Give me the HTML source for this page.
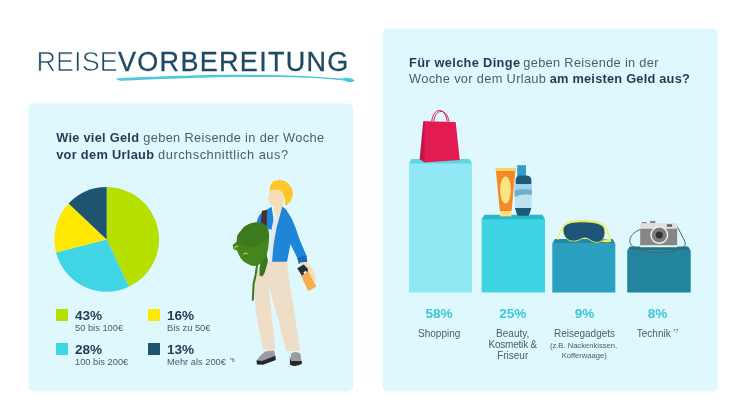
<!DOCTYPE html>
<html lang="de">
<head>
<meta charset="utf-8">
<title>Reisevorbereitung</title>
<style>
html,body{margin:0;padding:0;background:#fff;}
body{width:746px;height:420px;overflow:hidden;position:relative;}
svg{position:absolute;left:0;top:0;display:block;}
text{font-family:"Liberation Sans",sans-serif;}
.b{font-weight:700;fill:#1e3d54;}
.l{fill:#4b5d6b;}
.h{font-size:12.8px;}
.pc{font-weight:700;font-size:13.6px;}
.lg{font-size:9.3px;fill:#4b5d6b;}
.lb{font-size:10px;fill:#4b5d6b;text-anchor:middle;}
.sm{font-size:7.6px;fill:#4b5d6b;text-anchor:middle;}
</style>
</head>
<body>
<svg width="746" height="420" viewBox="0 0 746 420">
<!-- panels -->
<rect x="28.5" y="103.5" width="324.5" height="288" rx="5" fill="#dff8fd"/>
<rect x="382.5" y="28.5" width="335" height="363" rx="5" fill="#dff8fd"/>

<!-- title -->
<g id="title">
<path d="M116 78.4 C130 77.4 160 76.2 200 75.2 C225 74.7 255 74.8 280 75.2 C300 75.6 325 77 340 78.5 C343 78.4 345 77.4 347.5 77.7 C350.5 78 353.5 79 354.7 80.2 C354 81.6 351 82.3 349 82 C346.5 81.6 345 80.8 343 80.5 C335 79.6 320 78.3 310 77.8 C295 77.2 270 76.8 240 76.9 C215 77.1 180 78.2 160 79.1 C145 79.8 130 80.6 124 80.7 C120 80.8 116.6 80.2 116 78.4 Z" fill="#4cc9dc"/>
<text id="t1" x="36.4" y="71" font-size="27" fill="#1f4a63" letter-spacing="0.1" stroke="#fff" stroke-width="0.7">REISE</text>
<text id="t2" x="118" y="71" font-size="27" fill="#1f4a63" letter-spacing="1.3" stroke="#1f4a63" stroke-width="0.3">VORBEREITUNG</text>
</g>

<!-- left heading -->
<text class="h b" x="56.2" y="141.9" textLength="82.8">Wie viel Geld</text>
<text class="h l" x="143.3" y="141.9" textLength="180.7">geben Reisende in der Woche</text>
<text class="h b" x="56.2" y="158.6" textLength="97.8">vor dem Urlaub</text>
<text class="h l" x="158.1" y="158.6" textLength="129.9">durchschnittlich aus?</text>

<!-- pie -->
<g id="pie">
<path d="M106.7 239.4L106.70 187.10A52.3 52.3 0 0 1 128.97 286.72Z" fill="#b5e000"/>
<path d="M106.7 239.4L128.97 286.72A52.3 52.3 0 0 1 56.04 252.41Z" fill="#3fd5e5"/>
<path d="M106.7 239.4L56.04 252.41A52.3 52.3 0 0 1 68.57 203.60Z" fill="#ffe800"/>
<path d="M106.7 239.4L68.57 203.60A52.3 52.3 0 0 1 106.70 187.10Z" fill="#1d5470"/>
</g>

<!-- legend -->
<g id="legend">
<rect x="56" y="309" width="12" height="12" fill="#b5e000"/>
<rect x="56" y="343" width="12" height="12" fill="#3fd5e5"/>
<rect x="148" y="309" width="12" height="12" fill="#ffe800"/>
<rect x="148" y="343" width="12" height="12" fill="#1d5470"/>
<text class="pc b" x="75" y="319.6">43%</text>
<text class="lg" x="75" y="331.4">50 bis 100€</text>
<text class="pc b" x="75" y="353.6">28%</text>
<text class="lg" x="75" y="365.4">100 bis 200€</text>
<text class="pc b" x="167" y="319.6">16%</text>
<text class="lg" x="167" y="331.4">Bis zu 50€</text>
<text class="pc b" x="167" y="353.6">13%</text>
<text class="lg" x="167" y="365.4">Mehr als 200€ <tspan font-size="5.6" dx="1.2" dy="-3">*6</tspan></text>
</g>

<!-- person -->
<g id="person">
<!-- face + neck -->
<path d="M269.6 190 L269 196 L267.9 200 L269.4 201.4 L269.8 203.6 Q270.6 205.8 273 205.8 L274.6 205.5 L273.8 209 L276.6 220 L282.2 208.5 L282.6 203.6 Q284.8 201.6 284.4 198.6 L282 190 L276 186 Z" fill="#f8dcb6"/>
<!-- hair -->
<path d="M269.8 190.6 C269.6 187 270.4 184.6 272 183.4 C272.4 181.6 274.6 180.4 276.4 181 C277.6 179.6 280.4 179.4 281.8 180.6 C283.6 180 285.8 181 286.6 182.6 C288.6 183 290 184.8 290 186.4 C291.8 187.6 292.8 189.8 292.4 191.6 C293.4 193.6 293 196 292 197.6 C292 199.8 290.8 201.8 289.2 202.6 C288.4 204.4 286.6 205.6 285 205 C285.4 202.6 285.2 199.6 284.4 197 C283.4 193.6 281.6 190.8 279 190 C276 189.2 272.6 189.6 269.8 190.6 Z" fill="#fdc72b"/>
<!-- jacket left (behind) -->
<path d="M271.6 206.8 L268.6 208.6 L262 212.4 Q257.4 216 256.2 224.5 L262 227 L272 230 L274 222 Z" fill="#1e86d8"/>
<!-- shirt -->
<path d="M273.8 218 L276.6 220 L280.6 215 L280 232 L279.4 245 L278.5 263 L269.8 263 L269.4 245 L271 232 Z" fill="#e6e9eb"/>
<!-- pants -->
<path d="M265 261.5 L287 261.5 L289.8 285 L294.4 312 L300.2 351 L286 351 L277 315 L268.5 285 L271.5 315 L275.5 349.6 L263 349.6 L255.9 312 L253.8 286 L256 272 Z" fill="#eedec8"/>
<!-- ankle -->
<path d="M267.5 349.4 L273 349.4 L273.4 352.4 L268 353.4 Z" fill="#f8dcb6"/>
<!-- jacket right (front) -->
<path d="M282.4 206.4 L286 209.4 L291.4 217.9 L295.7 227.9 L299 238 L306.8 256.5 L298 259.5 L290.5 244 L287 261.8 L272 261.8 L273.5 245 L276.5 228 L280.4 213.5 Z" fill="#1e86d8"/>
<path d="M297.3 258 L306.4 255.6 L307.4 261.6 L298.8 263.9 Z" fill="#1768b6"/>
<!-- backpack strap -->
<path d="M262 210.8 L267.2 210 L266.6 226 L260.4 226 Z" fill="#4b2d2e"/>
<!-- backpack -->
<path d="M266 252 L268 261 L264.6 272.9 L262.3 276.6 L259.5 275.4 L259.6 267 L262 258 Z" fill="#3a761c"/>
<path d="M240.9 231.1 C243 227.6 245.4 225.6 248.4 224.6 C251 223.2 254 222.5 256.9 222.5 C259.4 222.5 261.6 223 263.4 224 C265.4 225 266.8 226.2 267.6 227.9 C268.6 230.4 269.1 233.4 269.1 236.4 C269.2 240 268.8 243.6 268.3 247.1 C268 250 267.4 252.4 266.6 254.6 C265.6 257.6 264.2 260.2 262.3 262.1 C260.6 264 258.4 265.4 255.9 265.8 C253.8 266.2 251.6 265.6 249.4 264.7 C247 263.8 244.8 262.6 243 261.1 C241.2 259.2 239.8 257 238.7 254.6 L237 250.4 L233.4 249.3 L232.7 245 L236.6 241.8 C236.6 239.6 237 237.4 237.6 235.4 C238.4 233.8 239.6 232.4 240.9 231.1 Z" fill="#44851f"/>
<path d="M240.9 231.1 C243 227.6 245.4 225.6 248.4 224.6 C251 223.2 254 222.5 256.9 222.5 C259.4 222.5 261.6 223 263.4 224 C265.4 225 266.8 226.2 267.6 227.9 C268.6 230.4 269.1 233.4 268.9 237.5 C263 243 256 247 249.4 247.1 C245 247 240.6 245.2 237 242.6 C236.8 240 237 237.4 237.6 235.4 C238.4 233.8 239.6 232.4 240.9 231.1 Z" fill="#3c7a1d"/>
<path d="M257 265.6 L255.6 275 L253.6 284 L252.8 299.8" fill="none" stroke="#3a761c" stroke-width="2" stroke-linecap="round"/>
<path d="M234.6 248.6 q0.6 -3 3.6 -2.2" fill="none" stroke="#e7c62f" stroke-width="1.1"/>
<path d="M243.4 254.8 q1.6 -2.8 4.2 -0.8" fill="none" stroke="#e7c62f" stroke-width="1.1"/>
<!-- hand + bottle -->
<path d="M300.7 275 L307.8 269.6 L316.4 286.4 L308.2 291.2 Z" fill="#f5ae4d"/>
<path d="M299.6 262.6 L306.6 262 C310 265 313 268.5 314.4 272 L316.2 280.5 L313.4 281.6 L309.6 272.6 L306 270 L301.4 268 Z" fill="#f8dcb6"/>
<path d="M297.2 268.2 L303.8 264.4 L307.8 268.8 L307.8 271.6 L301.8 275.4 Z" fill="#22303c"/>
<path d="M303.4 272.2 L306 270.8 L306.8 272.6 L304.2 274 Z" fill="#ffffff"/>
<!-- shoes -->
<path d="M265 351.4 L274.2 350.4 L275.4 357 L262.4 361.6 L257.4 362.4 L257.2 359.4 L261 355 Z" fill="#9c9c9e"/>
<path d="M256.4 360.2 L262 361 L275.4 355.8 L275.8 360 L263 364.8 L257 364.4 Z" fill="#26282a"/>
<path d="M291 353.4 Q295.6 350.4 300.4 353.4 L301.6 362.6 L290.6 362.6 Z" fill="#9c9c9e"/>
<path d="M289.8 356 L291 361 L301.6 361 L302.2 363.6 Q296 367.8 290 364.8 Z" fill="#26282a"/>
</g>

<!-- right heading -->
<text class="h b" x="409" y="66.5" textLength="111">Für welche Dinge</text>
<text class="h l" x="523.3" y="66.5" textLength="135.2">geben Reisende in der</text>
<text class="h l" x="409" y="82.5" textLength="136.9">Woche vor dem Urlaub</text>
<text class="h b" x="549.7" y="82.5" textLength="140.1">am meisten Geld aus?</text>

<!-- bars -->
<g id="bars">
<rect x="409" y="163" width="63" height="129.5" fill="#90e8f4"/>
<path d="M409 163.4L411.6 158.9H469.4L472 163.4Z" fill="#5ed4e4"/>
<rect x="481.7" y="219" width="63.3" height="73.5" fill="#3dd4e4"/>
<path d="M481.7 219.2L484.3 214.7H542.4L545 219.2Z" fill="#2bb8cc"/>
<rect x="552.3" y="243.5" width="63" height="49" fill="#2a9fbf"/>
<path d="M552.3 243.7L554.9 239H612.7L615.3 243.7Z" fill="#1f8aa8"/>
<rect x="627.2" y="250.5" width="63.5" height="42" fill="#22849f"/>
<path d="M627.2 250.8L629.8 246.4H688.1L690.7 250.8Z" fill="#1a7590"/>
</g>

<!-- bar icons -->
<g id="bag">
<path d="M431.7 121.6 C432.6 114 436 110.4 439.4 110.4 C443 110.4 446.2 114 447.2 121.6" fill="none" stroke="#d9204f" stroke-width="1"/>
<path d="M433.7 121.6 C434.6 114.6 437.8 111.4 441 111.4 C444.6 111.4 447.8 114.6 449 121.6" fill="none" stroke="#c71848" stroke-width="0.9"/>
<path d="M423.2 121.3 L426 121.3 L425.2 162.6 L419.6 159.2 Z" fill="#c2154a"/>
<path d="M424.6 121.3 L455.7 122 L459.8 160 L424.7 162.6 Z" fill="#e31b53"/>
</g>
<g id="cosmetics">
<path d="M495.7 168.1 H515.6 L511.6 211 H499.8 Z" fill="#f28b27"/>
<path d="M495.7 168.1 H515.6 L515.3 171 H496 Z" fill="#fbd26a"/>
<ellipse cx="505.5" cy="190" rx="5.4" ry="13.6" fill="#fde581"/>
<rect x="500" y="211" width="11.4" height="5.4" fill="#fde27c"/>
<rect x="517.2" y="165.2" width="8.8" height="11" fill="#2fa0c2"/>
<path d="M515.6 184.6 V181 Q515.6 175.6 520.4 175.6 H526.2 Q531.4 175.6 531.4 181 V184.6 Z" fill="#1d5a78"/>
<path d="M514.4 184.4 H532 L531.4 208.2 H515 Z" fill="#bfe3f3"/>
<path d="M514.4 184.4 H532 L531.9 190 Q523 187.6 514.5 190.6 Z" fill="#a3d3ea"/>
<path d="M514.5 190.6 Q523 187.6 531.9 190 L531.8 195 Q523 193.4 514.6 197 Z" fill="#6fb0cf"/>
<path d="M515 208 H531.4 L529.6 213.6 Q529.2 215.8 527.2 215.8 H519 Q517 215.8 516.6 213.6 Z" fill="#1d5a78"/>
</g>
<g id="mask">
<path d="M557.9 240 C558.6 232 563 223.6 571 221.4 C580 219.8 595 220.2 601 222.8 C606 225.6 608 232 610.6 239.8" fill="none" stroke="#efee4e" stroke-width="1.1"/>
<path d="M601 241.6 C604 239.4 607 238.6 610.8 239.4 L611.4 241.4 C608 242.6 604 242.6 601 241.6 Z" fill="#efee4e"/>
<path d="M563 231 C562.4 225 568 222.2 578 221.9 C590 221.6 600.4 222.6 603.6 227 C606.2 231 605 239 600.8 241.4 C596.8 243.4 592.6 241.8 589.6 239.6 C587 237.8 584 237.6 581.6 238.8 C578 240.8 573.6 242 569.6 240.6 C565.6 239 563.4 235 563 231 Z" fill="#1c5575" stroke="#efee4e" stroke-width="0.9"/>
</g>
<g id="camera">
<path d="M640.2 229.4 C634 232 629.6 236.6 629.8 240.8 C630 243.4 631 244.8 632.6 246.2 C640 250.6 650 252.8 660 252.6 C670 252.4 680 250 684.6 246 C686 244.4 685 242 684 239.6 L677.4 226.9" fill="none" stroke="#4e6068" stroke-width="1"/>
<rect x="642" y="222.3" width="4.8" height="2.2" fill="#5a5a5c"/>
<rect x="650" y="220.9" width="5.4" height="2.6" fill="#8a8a8c"/>
<rect x="640.2" y="223.1" width="37" height="6" fill="#dedede"/>
<rect x="640.2" y="228.8" width="37" height="16" fill="#868688"/>
<rect x="640.2" y="244.6" width="37" height="0.9" fill="#6b6b4a"/>
<rect x="640.2" y="245.4" width="37" height="1.8" fill="#f2f2f2"/>
<rect x="666.9" y="224.3" width="5.2" height="2.4" fill="#5a5a5c"/>
<circle cx="659.3" cy="235" r="9" fill="#f4f4f4"/>
<circle cx="659.3" cy="235" r="7.6" fill="#7c7c7e"/>
<circle cx="659.3" cy="235" r="3.6" fill="#333335"/>
</g>

<!-- bar labels -->
<g id="labels">
<text class="pc" x="439" y="318.3" text-anchor="middle" fill="#3cc8d8">58%</text>
<text class="pc" x="512.8" y="318.3" text-anchor="middle" fill="#3cc8d8">25%</text>
<text class="pc" x="584.5" y="318.3" text-anchor="middle" fill="#3cc8d8">9%</text>
<text class="pc" x="657.5" y="318.3" text-anchor="middle" fill="#3cc8d8">8%</text>
<text class="lb" x="439.2" y="336.5">Shopping</text>
<text class="lb" x="512.7" y="336.5">Beauty,</text>
<text class="lb" x="512.7" y="347.7" letter-spacing="-0.2">Kosmetik &amp;</text>
<text class="lb" x="512.7" y="358.9">Friseur</text>
<text class="lb" x="584.5" y="336.5">Reisegadgets</text>
<text class="sm" x="583.5" y="347.6">(z.B. Nackenkissen,</text>
<text class="sm" x="584.2" y="357.6">Kofferwaage)</text>
<text class="lb" x="657.5" y="336.5">Technik <tspan font-size="5" dy="-3.5">*7</tspan></text>
</g>
</svg>
</body>
</html>
